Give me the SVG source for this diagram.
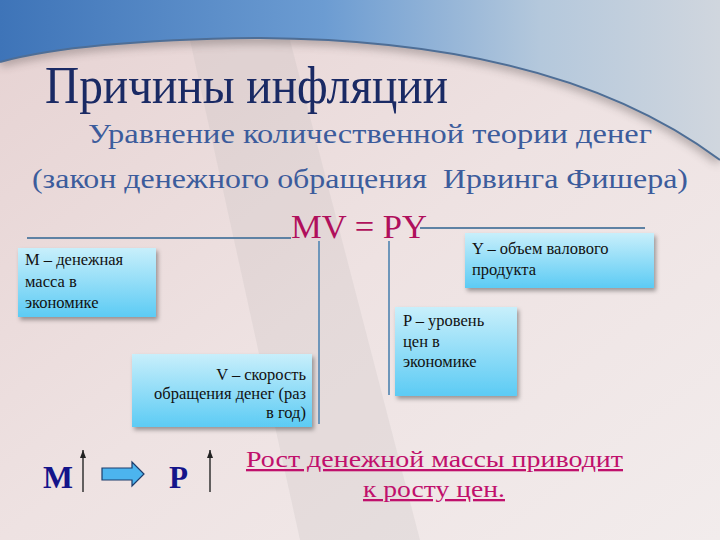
<svg xmlns="http://www.w3.org/2000/svg" width="720" height="540" viewBox="0 0 720 540">
<defs>
<linearGradient id="bg" x1="0" y1="0" x2="1" y2="1">
<stop offset="0" stop-color="#e6d2d2"/>
<stop offset="0.5" stop-color="#eee2e2"/>
<stop offset="1" stop-color="#f2ecec"/>
</linearGradient>
<linearGradient id="sky" x1="0" y1="0" x2="1" y2="0">
<stop offset="0" stop-color="#3e74b8"/>
<stop offset="0.45" stop-color="#6c9cd2"/>
<stop offset="0.75" stop-color="#b4c8dc"/>
<stop offset="1" stop-color="#d0d6de"/>
</linearGradient>
<linearGradient id="box" x1="0" y1="0" x2="0" y2="1">
<stop offset="0" stop-color="#c8effb"/>
<stop offset="1" stop-color="#5ccbf4"/>
</linearGradient>
<filter id="sh" x="-10%" y="-10%" width="130%" height="140%">
<feDropShadow dx="2" dy="3" stdDeviation="2" flood-color="#000" flood-opacity="0.35"/>
</filter>
<filter id="blur" x="-5%" y="-50%" width="110%" height="200%">
<feGaussianBlur stdDeviation="5"/>
</filter>
<marker id="up" viewBox="0 0 8 6" refX="8" refY="3" markerWidth="8" markerHeight="6" orient="auto" markerUnits="userSpaceOnUse">
<path d="M0,0 L8,3 L0,6 Z" fill="#222"/>
</marker>
<style>
text{font-family:"Liberation Serif","Liberation Sans",serif}
.title{font-size:52px;fill:#1a2a64}
.sub{font-size:27px;fill:#3c5c9c}
.eq{font-size:34px;fill:#b0105c}
.bt{font-size:16.5px;fill:#111}
.boxr{fill:url(#box);filter:url(#sh)}
.ln{stroke:#5e82a4;stroke-width:2;fill:none}
.vl{stroke:#6e96ba;stroke-width:2;fill:none}
.big{font-size:31px;fill:#14148a;font-weight:bold}
.red{font-size:23px;fill:#c0106c;text-decoration:underline}
.ar{stroke:#333;stroke-width:1.5;fill:none}
</style>
</defs>

<rect width="720" height="540" fill="url(#bg)"/>
<path d="M190,40 L290,40 L420,540 L300,540 Z" fill="#b8b0b4" opacity="0.18"/>
<path d="M0,62 Q80,40 260,38 Q560,40 720,160" stroke="#3a3030" stroke-width="10" fill="none" opacity="0.35" filter="url(#blur)"/>
<path d="M0,0 H720 V160 Q560,40 260,38 Q80,40 0,62 Z" fill="url(#sky)"/>
<path d="M0,62 Q80,40 260,38 Q560,40 720,160" stroke="#4e6e96" stroke-width="2" fill="none"/>

<g id="title">
<text class="title" x="45" y="103" textLength="403" lengthAdjust="spacingAndGlyphs">Причины инфляции</text>
</g>
<g id="subtitle">
<text class="sub" x="88" y="143" textLength="564" lengthAdjust="spacingAndGlyphs">Уравнение количественной теории денег</text>
<text class="sub" x="32" y="188" textLength="656" lengthAdjust="spacingAndGlyphs" xml:space="preserve">(закон денежного обращения  Ирвинга Фишера)</text>
</g>
<g id="equation">
<text class="eq" x="291" y="238" textLength="136" lengthAdjust="spacingAndGlyphs">MV = PY</text>
</g>

<g id="connectors">
<line class="ln" x1="27" y1="238" x2="291" y2="238"/>
<line class="ln" x1="420" y1="228" x2="645" y2="228"/>
<line class="vl" x1="319" y1="241" x2="319" y2="424"/>
<line class="vl" x1="389" y1="241" x2="389" y2="395"/>
<line class="ar" x1="83" y1="492" x2="83" y2="450" marker-end="url(#up)"/>
<line class="ar" x1="210" y1="492" x2="210" y2="450" marker-end="url(#up)"/>
</g>

<g id="node-m">
<rect class="boxr" x="18" y="248" width="138" height="69"/>
<text class="bt" x="25" y="265">М – денежная</text>
<text class="bt" x="25" y="287">масса в</text>
<text class="bt" x="25" y="308">экономике</text>
</g>
<g id="node-y">
<rect class="boxr" x="465" y="233" width="189" height="55"/>
<text class="bt" x="472" y="254">Y – объем валового</text>
<text class="bt" x="472" y="275">продукта</text>
</g>
<g id="node-p">
<rect class="boxr" x="395" y="307" width="122" height="89"/>
<text class="bt" x="403" y="326">P – уровень</text>
<text class="bt" x="403" y="347">цен в</text>
<text class="bt" x="403" y="367">экономике</text>
</g>
<g id="node-v">
<rect class="boxr" x="132" y="354" width="180" height="73"/>
<text class="bt" x="306" y="380" text-anchor="end">V – скорость</text>
<text class="bt" x="306" y="399" text-anchor="end">обращения денег (раз</text>
<text class="bt" x="306" y="418" text-anchor="end">в год)</text>
</g>

<g id="node-formula">
<text class="big" x="43" y="488" textLength="30" lengthAdjust="spacingAndGlyphs">M</text>
<path d="M102,468 H132 V462 L144,474 L132,486 V480 H102 Z" fill="#4cb4ee" stroke="#1c3c6c" stroke-width="1.2"/>
<text class="big" x="169" y="488" textLength="19" lengthAdjust="spacingAndGlyphs">P</text>
</g>
<g id="node-conclusion">
<text class="red" x="246" y="467" textLength="377" lengthAdjust="spacingAndGlyphs">Рост денежной массы приводит</text>
<text class="red" x="363" y="497" textLength="142" lengthAdjust="spacingAndGlyphs">к росту цен.</text>
</g>
</svg>
